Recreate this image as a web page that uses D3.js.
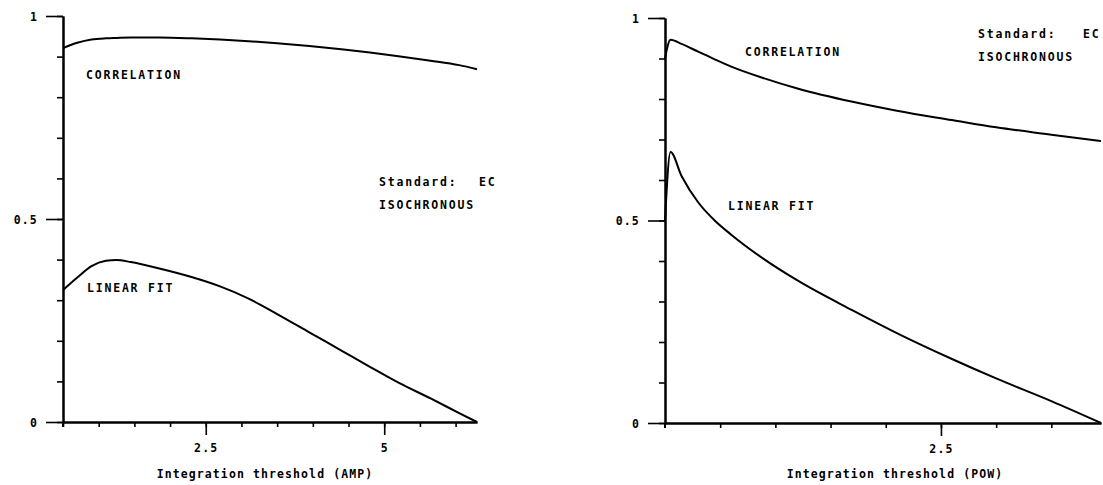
<!DOCTYPE html>
<html>
<head>
<meta charset="utf-8">
<script src="https://cdn.jsdelivr.net/npm/d3@7/dist/d3.min.js"></script>
<style>
  html, body { margin: 0; padding: 0; background: #fff; }
  svg text { font-family: "DejaVu Sans Mono", monospace; font-weight: bold; fill: #000; }
</style>
</head>
<body>
<svg id="chart" width="1103" height="485"></svg>
<script>
// ---- Left panel: amplitude threshold ----
const ampX        = [0.5, 0.7, 0.9, 1.1, 1.25, 1.45, 1.85, 2.3, 2.7, 3.1, 3.5, 3.95, 4.4, 4.8, 5.2, 5.65, 6.05, 6.3];
const ampCorr     = [0.921, 0.934, 0.942, 0.945, 0.946, 0.947, 0.947, 0.945, 0.942, 0.938, 0.933, 0.926, 0.918, 0.910, 0.901, 0.890, 0.879, 0.869];
const ampLinear   = [0.325, 0.356, 0.384, 0.397, 0.399, 0.394, 0.378, 0.357, 0.334, 0.304, 0.266, 0.221, 0.176, 0.136, 0.097, 0.058, 0.022, 0.0];

// ---- Right panel: power threshold ----
const powX        = [0.0, 0.05, 0.15, 0.3, 0.45, 0.6, 0.9, 1.2, 1.7, 2.1, 2.6, 3.0, 3.5, 3.95];
const powCorr     = [0.90, 0.946, 0.936, 0.917, 0.898, 0.880, 0.851, 0.826, 0.793, 0.771, 0.748, 0.730, 0.712, 0.696];
const powLinear   = [0.50, 0.669, 0.610, 0.545, 0.500, 0.465, 0.404, 0.352, 0.278, 0.222, 0.158, 0.110, 0.054, 0.0];

// ---- Axis ticks and labels ----
const yMinorTicks = d3.range(0, 1.0001, 0.1);
const yMajorTicks = [0, 0.5, 1];
const ampMinorTicks = [0.5, 1, 1.5, 2, 2.5, 3, 3.5, 4, 4.5, 5, 5.5, 6];
const ampMajorTicks = [2.5, 5];
const powMinorTicks = [0.5, 1, 1.5, 2, 2.5, 3, 3.5];
const powMajorTicks = [2.5];

const panels = [
  {
    x: ampX, series: [ampCorr, ampLinear], domain: [0.5, 6.3],
    px: [63, 477], py: [422, 16],
    minor: ampMinorTicks, major: ampMajorTicks,
    title: "Integration threshold (AMP)", titleX: 265,
    labels: [
      { t: "CORRELATION", x: 86, y: 75 },
      { t: "LINEAR FIT", x: 87, y: 288 },
      { t: "Standard:", x: 379, y: 182 },
      { t: "EC", x: 479, y: 182 },
      { t: "ISOCHRONOUS", x: 379, y: 205 }
    ]
  },
  {
    x: powX, series: [powCorr, powLinear], domain: [0, 3.95],
    px: [665, 1101], py: [423, 18],
    minor: powMinorTicks, major: powMajorTicks,
    title: "Integration threshold (POW)", titleX: 895,
    labels: [
      { t: "CORRELATION", x: 745, y: 52 },
      { t: "LINEAR FIT", x: 728, y: 206 },
      { t: "Standard:", x: 978, y: 34 },
      { t: "EC", x: 1083, y: 34 },
      { t: "ISOCHRONOUS", x: 978, y: 57 }
    ]
  }
];

const svg = d3.select("#chart");
const fmtY = d => d === 0 ? "0" : d === 1 ? "1" : d3.format(".1f")(d);

panels.forEach(p => {
  const x = d3.scaleLinear().domain(p.domain).range(p.px);
  const y = d3.scaleLinear().domain([0, 1]).range(p.py);
  const g = svg.append("g");

  // y axis: short minor ticks every 0.1, long labelled ticks at 0, 0.5, 1
  g.append("g").attr("transform", `translate(${p.px[0]},0)`)
    .call(d3.axisLeft(y).tickValues(yMinorTicks).tickSize(6).tickSizeOuter(0).tickFormat(""));
  const yMajor = g.append("g").attr("transform", `translate(${p.px[0]},0)`)
    .call(d3.axisLeft(y).tickValues(yMajorTicks).tickSize(17).tickSizeOuter(0).tickPadding(8).tickFormat(fmtY));

  // x axis: short ticks every 0.5, longer labelled ticks
  g.append("g").attr("transform", `translate(0,${p.py[0]})`)
    .call(d3.axisBottom(x).tickValues(p.minor).tickSize(5).tickSizeOuter(0).tickFormat(""));
  g.append("g").attr("transform", `translate(0,${p.py[0]})`)
    .call(d3.axisBottom(x).tickValues(p.major).tickSize(13).tickSizeOuter(0).tickPadding(9).tickFormat(d3.format("")));

  // the vertical axis runs a little past the baseline
  g.append("line")
    .attr("x1", p.px[0]).attr("x2", p.px[0])
    .attr("y1", p.py[0]).attr("y2", p.py[0] + 5)
    .attr("stroke", "#000").attr("stroke-width", 2);

  g.selectAll(".domain").attr("stroke", "#000").attr("stroke-width", 2);
  g.selectAll(".tick line").attr("stroke", "#000").attr("stroke-width", 1.6);
  g.selectAll(".tick text")
    .style("font-size", "11.5px")
    .style("letter-spacing", "1.2px")
    .attr("fill", "#000");
  yMajor.selectAll(".tick text").attr("dy", "0.35em");

  // curves
  const line = d3.line()
    .x((d, i) => x(p.x[i]))
    .y(d => y(d))
    .curve(d3.curveMonotoneX);
  p.series.forEach(s => {
    g.append("path")
      .datum(s)
      .attr("d", line)
      .attr("fill", "none")
      .attr("stroke", "#000")
      .attr("stroke-width", 2);
  });

  // annotations
  p.labels.forEach(l => {
    g.append("text")
      .attr("x", l.x).attr("y", l.y)
      .attr("dy", "0.35em")
      .style("font-size", "11.5px")
      .style("letter-spacing", "1.8px")
      .text(l.t);
  });

  g.append("text")
    .attr("x", p.titleX).attr("y", 474)
    .attr("dy", "0.35em")
    .attr("text-anchor", "middle")
    .style("font-size", "11.5px")
    .style("letter-spacing", "1.1px")
    .text(p.title);
});
</script>
</body>
</html>
